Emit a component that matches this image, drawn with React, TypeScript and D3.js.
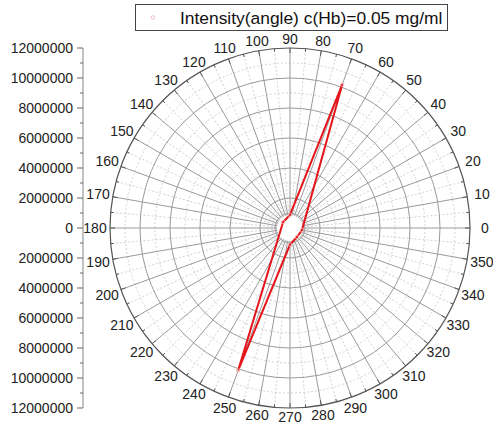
import React, { useEffect, useRef } from 'react';
import * as d3 from 'd3';

// polar data: angle in degrees, intensity in counts
const angles = [250, 270, 308, 350, 70, 90, 139, 250];
const intensity = [10100000, 1100000, 760000, 810000, 10170000, 870000, 610000, 10100000];

const radialTicks = [0, 2000000, 4000000, 6000000, 8000000, 10000000, 12000000];
const angleTicks = d3.range(0, 360, 10);
const legendLabel = 'Intensity(angle) c(Hb)=0.05 mg/ml';

const App: React.FC = () => {
  const svgRef = useRef<SVGSVGElement>(null);

  useEffect(() => {
    if (!svgRef.current) return;
    const svg = d3.select(svgRef.current);
    svg.selectAll('*').remove();

    const width = 493;
    const height = 425;
    const cx = 290;
    const cy = 228;
    const R = 180;
    const font = 'Liberation Sans, Arial, sans-serif';

    const r = d3.scaleLinear().domain([0, 12000000]).range([0, R]);
    const rad = (a: number) => (a * Math.PI) / 180;
    const px = (a: number, v: number) => cx + v * Math.cos(rad(a));
    const py = (a: number, v: number) => cy - v * Math.sin(rad(a));

    svg.attr('width', width).attr('height', height);
    svg.append('rect').attr('width', width).attr('height', height).attr('fill', 'white');

    const grid = svg.append('g');
    const inner = 13;

    // minor rings (dashed)
    grid.selectAll('circle.minor')
      .data(d3.range(3000000, 12000000, 2000000))
      .join('circle')
      .attr('cx', cx).attr('cy', cy)
      .attr('r', d => r(d))
      .attr('fill', 'none')
      .attr('stroke', '#d2d2d2')
      .attr('stroke-width', 1)
      .attr('stroke-dasharray', '2,2');

    // minor spokes (dashed)
    grid.selectAll('line.minor')
      .data(d3.range(5, 360, 10))
      .join('line')
      .attr('x1', d => px(d, inner)).attr('y1', d => py(d, inner))
      .attr('x2', d => px(d, R)).attr('y2', d => py(d, R))
      .attr('stroke', '#d2d2d2')
      .attr('stroke-width', 1)
      .attr('stroke-dasharray', '2,2');

    // major rings
    grid.selectAll('circle.major')
      .data([1000000, ...radialTicks.slice(1, -1)])
      .join('circle')
      .attr('cx', cx).attr('cy', cy)
      .attr('r', d => r(d))
      .attr('fill', 'none')
      .attr('stroke', '#9a9a9a')
      .attr('stroke-width', 1);

    // major spokes
    grid.selectAll('line.major')
      .data(angleTicks)
      .join('line')
      .attr('x1', d => px(d, inner)).attr('y1', d => py(d, inner))
      .attr('x2', d => px(d, R)).attr('y2', d => py(d, R))
      .attr('stroke', '#9a9a9a')
      .attr('stroke-width', 1);

    // outer circle + inward ticks
    svg.append('circle')
      .attr('cx', cx).attr('cy', cy).attr('r', R)
      .attr('fill', 'none')
      .attr('stroke', '#555')
      .attr('stroke-width', 1.2);

    svg.append('g').selectAll('line')
      .data(d3.range(0, 360, 5))
      .join('line')
      .attr('x1', d => px(d, R)).attr('y1', d => py(d, R))
      .attr('x2', d => px(d, R - (d % 10 === 0 ? 5 : 3)))
      .attr('y2', d => py(d, R - (d % 10 === 0 ? 5 : 3)))
      .attr('stroke', '#555')
      .attr('stroke-width', 1);

    // angle labels
    svg.append('g').selectAll('text')
      .data(angleTicks)
      .join('text')
      .attr('x', d => px(d, R + 9 + 6 * Math.abs(Math.cos(rad(d)))))
      .attr('y', d => py(d, R + 9 + 6 * Math.abs(Math.cos(rad(d)))))
      .attr('text-anchor', 'middle')
      .attr('dominant-baseline', 'central')
      .style('font', `14px ${font}`)
      .attr('fill', '#222')
      .text(d => String(d));

    // left radial axis (mirrored)
    const axisX = 83;
    const y = d3.scaleLinear().domain([0, 12000000]).range([0, R]);
    const axis = svg.append('g');
    axis.append('line')
      .attr('x1', axisX).attr('x2', axisX)
      .attr('y1', cy - R).attr('y2', cy + R)
      .attr('stroke', '#999').attr('stroke-width', 1.2);
    const minor = d3.range(1000000, 12000000, 2000000);
    [-1, 1].forEach(s => {
      axis.append('g').selectAll('line')
        .data(minor)
        .join('line')
        .attr('x1', axisX - 3).attr('x2', axisX)
        .attr('y1', d => cy + s * y(d)).attr('y2', d => cy + s * y(d))
        .attr('stroke', '#666');
    });
    const majorVals = [...radialTicks.slice(1).map(v => -v).reverse(), ...radialTicks];
    axis.append('g').selectAll('line')
      .data(majorVals)
      .join('line')
      .attr('x1', axisX - 6).attr('x2', axisX)
      .attr('y1', d => cy + Math.sign(d) * y(Math.abs(d)))
      .attr('y2', d => cy + Math.sign(d) * y(Math.abs(d)))
      .attr('stroke', '#666');
    axis.append('g').selectAll('text')
      .data(majorVals)
      .join('text')
      .attr('x', axisX - 10)
      .attr('y', d => cy + Math.sign(d) * y(Math.abs(d)))
      .attr('text-anchor', 'end')
      .attr('dominant-baseline', 'central')
      .style('font', `14px ${font}`)
      .attr('fill', '#222')
      .text(d => String(Math.abs(d)));

    // data line
    const pts: [number, number][] = angles.map((a, i) => [px(a, r(intensity[i])), py(a, r(intensity[i]))]);
    svg.append('path')
      .attr('d', d3.line()(pts))
      .attr('fill', 'none')
      .attr('stroke', '#e4161c')
      .attr('stroke-width', 2)
      .attr('stroke-linejoin', 'round');

    svg.append('g').selectAll('circle')
      .data(pts.slice(0, -1))
      .join('circle')
      .attr('cx', d => d[0]).attr('cy', d => d[1])
      .attr('r', 1.8)
      .attr('fill', 'none')
      .attr('stroke', '#f0b0b0')
      .attr('stroke-width', 0.8);

    // legend
    const lg = svg.append('g');
    lg.append('rect')
      .attr('x', 135.5).attr('y', 4.5)
      .attr('width', 312).attr('height', 26)
      .attr('fill', 'white')
      .attr('stroke', '#444');
    lg.append('circle')
      .attr('cx', 153).attr('cy', 17.5).attr('r', 1.8)
      .attr('fill', 'none').attr('stroke', '#f0b0b0').attr('stroke-width', 0.8);
    lg.append('text')
      .attr('x', 180).attr('y', 17.5)
      .attr('dominant-baseline', 'central')
      .style('font', `17.4px ${font}`)
      .attr('fill', '#111')
      .text(legendLabel);
  }, []);

  return (
    <svg ref={svgRef} style={{ position: 'absolute', left: 0, top: 0, display: 'block' }}></svg>
  );
};

export default App;
